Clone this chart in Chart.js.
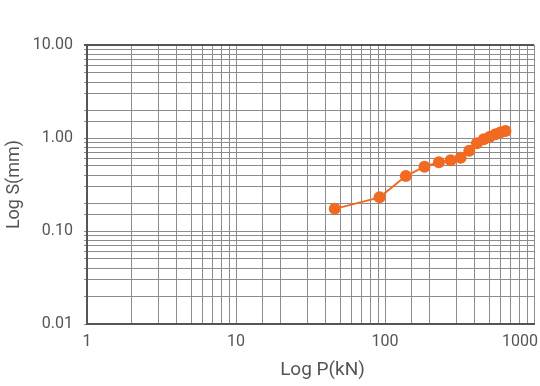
<!DOCTYPE html>
<html>
<head>
<meta charset="utf-8">
<script src="https://cdn.jsdelivr.net/npm/chart.js@4/dist/chart.umd.min.js"></script>
<style>
  html, body { margin: 0; padding: 0; background: #fff; }
  #wrap { width: 540px; height: 386px; }
</style>
</head>
<body>
<div id="wrap"><canvas id="chart" width="540" height="386"></canvas></div>
<script>
// load steps (kN) and settlement (mm)
var loads = [46, 92, 138, 184, 230, 276, 322, 368, 414, 460, 506, 552, 598, 644];
var settlements = [0.173, 0.230, 0.390, 0.491, 0.548, 0.576, 0.614, 0.73, 0.877, 0.968, 1.03, 1.10, 1.15, 1.19];

var xTickValues = [1, 10, 100, 1000];
var xTickLabels = ['1', '10', '100', '1000'];
var yTickValues = [0.01, 0.1, 1, 10];
var yTickLabels = ['0.01', '0.10', '1.00', '10.00'];
var xTitle = 'Log P(kN)';
var yTitle = 'Log S(mm)';

var textColor = '#555';
var gridColor = '#8c8c8c';
var lineColor = '#f26a21';
var fontFamily = 'Roboto, "Noto Sans", sans-serif';

Chart.defaults.font.family = fontFamily;
Chart.defaults.color = textColor;

function isDecade(v, list) {
    for (var i = 0; i < list.length; i++) {
        if (Math.abs(v - list[i]) / list[i] < 1e-6) return i;
    }
    return -1;
}

// x labels + title drawn by hand so the last label stays inside the canvas
var xLabelPlugin = {
    id: 'xLabels',
    afterDraw: function(chart) {
        var ctx = chart.ctx;
        var xs = chart.scales.x;
        ctx.save();
        ctx.font = '16px ' + fontFamily;
        ctx.fillStyle = textColor;
        ctx.textAlign = 'center';
        ctx.textBaseline = 'middle';
        xTickValues.forEach(function(v, i) {
            var px = xs.getPixelForValue(v);
            var w = ctx.measureText(xTickLabels[i]).width;
            px = Math.min(px, chart.width - 2 - w / 2);
            ctx.fillText(xTickLabels[i], px, xs.top + 18);
        });
        ctx.font = '19px ' + fontFamily;
        ctx.fillText(xTitle, (xs.left + xs.right) / 2 + 12, xs.top + 46);
        ctx.restore();
    }
};

var ctx = document.getElementById('chart');
var chart = new Chart(ctx, {
    type: 'line',
    data: {
        datasets: [{
            data: loads.map(function(p, i) { return { x: p, y: settlements[i] }; }),
            borderColor: lineColor,
            backgroundColor: lineColor,
            borderWidth: 2,
            pointRadius: 6,
            pointBorderWidth: 0,
            pointBackgroundColor: lineColor,
            tension: 0
        }]
    },
    options: {
        responsive: false,
        animation: false,
        layout: { padding: { top: 45, right: 2, left: 0, bottom: 0 } },
        plugins: {
            legend: { display: false },
            tooltip: { enabled: false }
        },
        scales: {
            x: {
                type: 'logarithmic',
                min: 1,
                max: 1000,
                afterFit: function(scale) {
                    scale.height = 62;
                    scale.paddingLeft = 0;
                    scale.paddingRight = 0;
                },
                border: { display: true, color: '#555', width: 2 },
                grid: { color: gridColor, lineWidth: 1, drawTicks: false },
                ticks: {
                    autoSkip: false,
                    maxRotation: 0,
                    color: 'transparent',
                    font: { size: 16 },
                    padding: 8,
                    callback: function(v) {
                        var i = isDecade(v, xTickValues);
                        return i >= 0 ? xTickLabels[i] : '';
                    }
                },
                title: { display: false }
            },
            y: {
                type: 'logarithmic',
                min: 0.01,
                max: 10,
                afterFit: function(scale) {
                    scale.width = 87;
                    scale.paddingTop = 0;
                    scale.paddingBottom = 0;
                },
                border: { display: true, color: '#555', width: 2 },
                grid: {
                    color: function(c) {
                        return c.tick && c.tick.value === 10 ? '#555' : gridColor;
                    },
                    lineWidth: function(c) {
                        return c.tick && c.tick.value === 10 ? 2 : 1;
                    },
                    drawTicks: true,
                    tickLength: 3
                },
                ticks: {
                    autoSkip: false,
                    color: textColor,
                    font: { size: 16 },
                    padding: 11,
                    callback: function(v) {
                        var i = isDecade(v, yTickValues);
                        return i >= 0 ? yTickLabels[i] : '';
                    }
                },
                title: {
                    display: true,
                    text: yTitle,
                    color: textColor,
                    font: { size: 18 },
                    padding: { top: 4, bottom: 0 }
                }
            }
        }
    },
    plugins: [xLabelPlugin]
});
</script>
</body>
</html>
